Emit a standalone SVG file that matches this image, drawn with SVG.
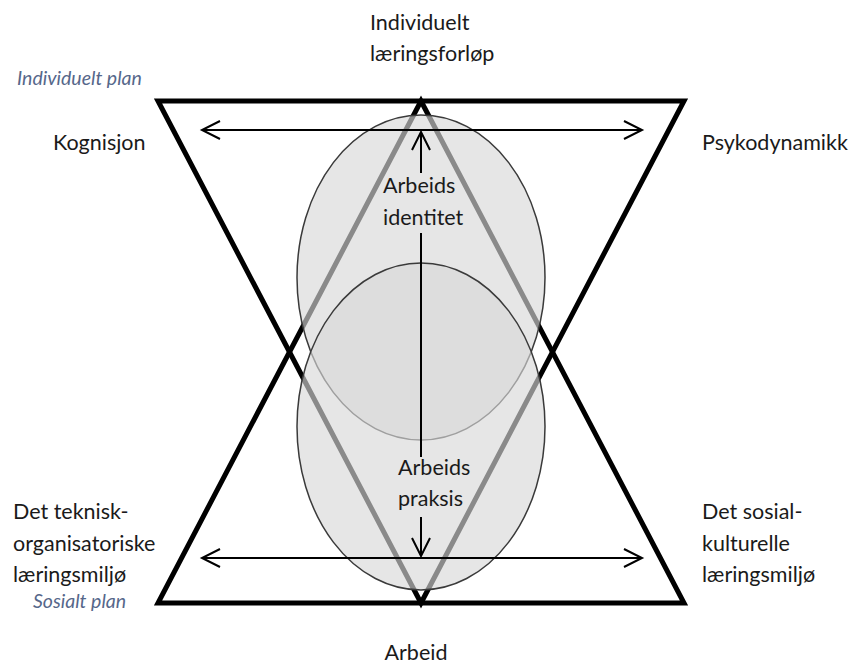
<svg xmlns="http://www.w3.org/2000/svg" width="853" height="668" viewBox="0 0 853 668">
<style>
.tri{fill:none;stroke:#000;stroke-width:5;stroke-linejoin:miter}
.ell{fill:#d8d8d8;fill-opacity:0.64;stroke:#3a3a3a;stroke-width:1.5}
.arr{fill:none;stroke:#000;stroke-width:2}
.lbl{font-family:Lato,"Open Sans","Liberation Sans",sans-serif;font-size:21.5px;fill:#1a1a1a}
.pl{font-family:Lato,"Open Sans","Liberation Sans",sans-serif;font-size:19.5px;font-style:italic;fill:#56678a}
</style>
<defs>
<marker id="ah" markerUnits="userSpaceOnUse" markerWidth="24" markerHeight="24" viewBox="0 0 24 24" refX="21" refY="12" orient="auto-start-reverse">
<path d="M3,3 L21,12 L3,21" fill="none" stroke="#000" stroke-width="2"/>
</marker>
</defs>
<g id="triangles">
<path class="tri" d="M158,101 L684,101 L421,603 Z"/>
<path class="tri" d="M158,603 L684,603 L421,101 Z"/>
</g>
<g id="ellipses">
<ellipse id="upper-ellipse" class="ell" cx="421" cy="277.5" rx="124" ry="162.5"/>
<ellipse id="lower-ellipse" class="ell" cx="421" cy="426.5" rx="124" ry="163.5"/>
</g>
<g id="connectors">
<line class="arr" x1="202" y1="130" x2="642" y2="130" marker-start="url(#ah)" marker-end="url(#ah)"/>
<line class="arr" x1="202" y1="558" x2="642" y2="558" marker-start="url(#ah)" marker-end="url(#ah)"/>
<line class="arr" x1="421" y1="173" x2="421" y2="132" marker-end="url(#ah)"/>
<line class="arr" x1="421" y1="233" x2="421" y2="457"/>
<line class="arr" x1="421" y1="517" x2="421" y2="556" marker-end="url(#ah)"/>
</g>
<g id="node-top">
<text class="lbl" x="370" y="30">Individuelt</text>
<text class="lbl" x="370" y="61">læringsforløp</text>
</g>
<g id="node-individuelt-plan"><text class="pl" x="17" y="85">Individuelt plan</text></g>
<g id="node-kognisjon"><text class="lbl" x="53" y="150">Kognisjon</text></g>
<g id="node-psykodynamikk"><text class="lbl" x="702" y="150">Psykodynamikk</text></g>
<g id="node-arbeidsidentitet">
<text class="lbl" x="383" y="193">Arbeids</text>
<text class="lbl" x="383" y="225">identitet</text>
</g>
<g id="node-arbeidspraksis">
<text class="lbl" x="398" y="475">Arbeids</text>
<text class="lbl" x="398" y="506">praksis</text>
</g>
<g id="node-teknisk">
<text class="lbl" x="13" y="519">Det teknisk-</text>
<text class="lbl" x="13" y="551">organisatoriske</text>
<text class="lbl" x="13" y="582">læringsmiljø</text>
</g>
<g id="node-sosialt-plan"><text class="pl" x="33" y="608">Sosialt plan</text></g>
<g id="node-sosial">
<text class="lbl" x="702" y="519">Det sosial-</text>
<text class="lbl" x="702" y="551">kulturelle</text>
<text class="lbl" x="702" y="582">læringsmiljø</text>
</g>
<g id="node-arbeid"><text class="lbl" x="416" y="660" text-anchor="middle">Arbeid</text></g>
</svg>
